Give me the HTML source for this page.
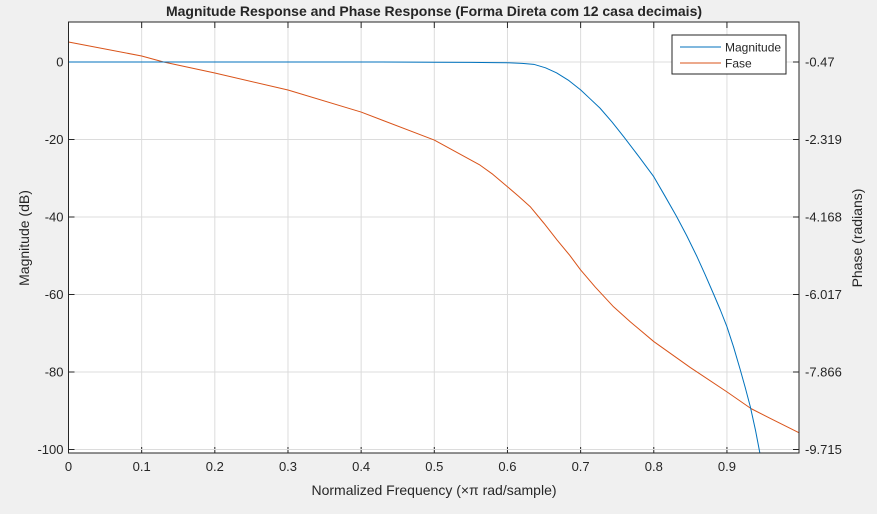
<!DOCTYPE html>
<html><head><meta charset="utf-8"><style>
body{margin:0;background:#f0f0f0;font-family:"Liberation Sans",sans-serif;}
svg text{font-family:"Liberation Sans",sans-serif;fill:#262626;}
</style></head><body>
<svg id="c" width="877" height="509" xmlns="http://www.w3.org/2000/svg">
<rect width="877" height="509" fill="#f0f0f0"/>
</svg>
<script>
const xTicks=[0,0.1,0.2,0.3,0.4,0.5,0.6,0.7,0.8,0.9];
const magTicks=[0,-20,-40,-60,-80,-100];
const phaseTicks=[-0.47,-2.319,-4.168,-6.017,-7.866,-9.715];
const magFreq=[0,0.1,0.2,0.3,0.4,0.5,0.55,0.58,0.6,0.62,0.636,0.652,0.667,0.684,0.7,0.713,0.7265,0.743,0.759,0.78,0.8,0.815,0.831,0.845,0.859,0.87,0.882,0.891,0.9,0.909,0.918,0.925,0.932,0.939,0.945];
const magVals=[0,0,0,0,0,-0.05,-0.1,-0.15,-0.2,-0.35,-0.6,-1.5,-2.8,-4.8,-7.2,-9.5,-11.9,-15.5,-19.3,-24.5,-29.6,-34.5,-39.8,-44.8,-50.2,-54.8,-60,-64,-68.3,-73.5,-79.3,-84,-89,-95,-101];
const phFreq=[0,0.1,0.13,0.2,0.3,0.4,0.5,0.53,0.5625,0.58,0.6,0.615,0.631,0.65,0.668,0.685,0.7,0.72,0.745,0.768,0.8,0.85,0.9,0.933,0.959,0.998];
const phVals=[0.008,-0.327,-0.47,-0.733,-1.139,-1.664,-2.333,-2.62,-2.93,-3.15,-3.445,-3.67,-3.92,-4.32,-4.72,-5.08,-5.43,-5.84,-6.31,-6.67,-7.14,-7.76,-8.34,-8.74,-8.97,-9.31];

const L=68.5,R=799,T=22,B=453;
const X=v=>L+v*731.6;
const Y=v=>62-v*3.875;
const P=v=>62+(-0.47-v)*(387.5/9.245);
const svg=document.getElementById('c');
const NS='http://www.w3.org/2000/svg';
function mk(tag,attrs,parent){const e=document.createElementNS(NS,tag);for(const k in attrs)e.setAttribute(k,attrs[k]);(parent||svg).appendChild(e);return e;}

const plot=mk('rect',{x:L,y:T,width:R-L,height:B-T,fill:'#fff'});



xTicks.forEach(v=>{
 const g=mk('line',{x1:X(v),x2:X(v),y1:T,y2:B,stroke:'#dcdcdc','stroke-width':1});
 
 
 mk('line',{x1:X(v),x2:X(v),y1:B,y2:B-6,stroke:'#262626'});
 mk('line',{x1:X(v),x2:X(v),y1:T,y2:T+6,stroke:'#262626'});
 const t=mk('text',{x:X(v),y:471,'font-size':13,'text-anchor':'middle'});t.textContent=String(v);
 
 
});
magTicks.forEach(v=>{
 const g=mk('line',{x1:L,x2:R,y1:Y(v),y2:Y(v),stroke:'#dcdcdc'});
 
 
 mk('line',{x1:L,x2:L+6,y1:Y(v),y2:Y(v),stroke:'#262626'});
 const t=mk('text',{x:L-5,y:Y(v)+4.5,'font-size':13,'text-anchor':'end'});t.textContent=String(v);
 
 
});
phaseTicks.forEach(v=>{
 mk('line',{x1:R-6,x2:R,y1:P(v),y2:P(v),stroke:'#262626'});
 const t=mk('text',{x:R+6,y:P(v)+4.5,'font-size':13});t.textContent=String(v);
 
 
});
const ph=mk('polyline',{points:phFreq.map((f,i)=>X(f)+','+P(phVals[i])).join(' '),fill:'none',stroke:'#d95319','stroke-width':1,'stroke-linejoin':'round'});


const mg=mk('polyline',{points:magFreq.map((f,i)=>X(f)+','+Math.min(B,Y(magVals[i]))).join(' '),fill:'none',stroke:'#0072bd','stroke-width':1,'stroke-linejoin':'round'});


const fr=mk('rect',{x:L,y:T,width:R-L,height:B-T,fill:'none',stroke:'#262626'});



const lg=mk('g',{});


mk('rect',{x:672,y:35,width:114,height:39,fill:'#fff',stroke:'#262626'},lg);
mk('line',{x1:680,x2:721,y1:47,y2:47,stroke:'#0072bd'},lg);
mk('line',{x1:680,x2:721,y1:63,y2:63,stroke:'#d95319'},lg);
const l1=mk('text',{x:725,y:51.5,'font-size':12},lg);l1.textContent='Magnitude';


const l2=mk('text',{x:725,y:67.5,'font-size':12},lg);l2.textContent='Fase';



const ti=mk('text',{x:434,y:16,'font-size':14,'font-weight':'bold','text-anchor':'middle',fill:'#000'});
ti.textContent='Magnitude Response and Phase Response (Forma Direta com 12 casa decimais)';


const xl=mk('text',{x:434,y:495,'font-size':14,'text-anchor':'middle'});
xl.textContent='Normalized Frequency (×π rad/sample)';


const yl=mk('text',{x:0,y:0,'font-size':14,'text-anchor':'middle',transform:'translate(29,238) rotate(-90)'});
yl.textContent='Magnitude (dB)';


const yr=mk('text',{x:0,y:0,'font-size':14,'text-anchor':'middle',transform:'translate(862,238) rotate(-90)'});
yr.textContent='Phase (radians)';


</script>
</body></html>
